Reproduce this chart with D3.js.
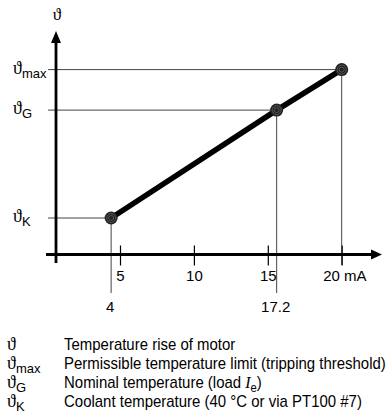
<!DOCTYPE html>
<html><head><meta charset="utf-8">
<script src="https://cdn.jsdelivr.net/npm/d3@7"></script>
<style>
html,body{margin:0;padding:0;background:#fff;}
svg{display:block;}
.sans{font-family:"Liberation Sans",Arial,sans-serif;}
.sym{font-family:"Liberation Serif","DejaVu Serif",serif;}
</style></head>
<body><svg id="c" width="391" height="416"></svg>
<script>
// ---- data ----
const xTicks = [5, 10, 15, 20];
const xTickLabels = ["5", "10", "15", "20 mA"];
const pointX = [4.4, 15.6, 20];          // current (mA)
const pointY = [16.4, 64.9, 83.1];       // relative temperature (schematic)
const pointSubs = ["K", "G", "max"];
const pointXLabels = ["4", "17.2", ""];
const legendSubs = ["", "max", "G", "K"];
const legendTexts = [
  "Temperature rise of motor",
  "Permissible temperature limit (tripping threshold)",
  "Nominal temperature (load ",
  "Coolant temperature (40 °C or via PT100 #7)"
];

const svg = d3.select("#c");
const x = d3.scaleLinear().domain([5, 20]).range([120, 341.7]);
const y = d3.scaleLinear().domain([0, 100]).range([254.5, 32]);
const x0 = 56;                // y-axis position
const theta = "\u03D1";

// guide lines (horizontal)
svg.selectAll("line.h").data(pointX).join("line")
  .attr("x1", 48).attr("x2", d => x(d))
  .attr("y1", (d, i) => y(pointY[i])).attr("y2", (d, i) => y(pointY[i]))
  .attr("stroke", "#444").attr("stroke-width", 1);
// guide lines (vertical)
svg.selectAll("line.v").data(pointX).join("line")
  .attr("x1", d => x(d)).attr("x2", d => x(d))
  .attr("y1", (d, i) => y(pointY[i])).attr("y2", (d, i) => pointXLabels[i] ? 293 : 265)
  .attr("stroke", "#444").attr("stroke-width", 1);

// axes
const ax = svg.append("g").attr("transform", `translate(0,${y(0)})`)
  .call(d3.axisBottom(x).tickValues(xTicks).tickSize(11)
    .tickFormat((d, i) => xTickLabels[i]));
ax.attr("font-family", null).attr("font-size", null);
ax.select(".domain").remove();
ax.selectAll(".tick line").attr("y1", -9).attr("y2", 11).attr("stroke", "#000").attr("stroke-width", 1.2);
ax.selectAll(".tick text").attr("y", 16).attr("dy", "0.71em")
  .attr("class", "sans").attr("font-size", 15).attr("fill", "#000");
ax.selectAll(".tick text").filter((d, i) => i === xTicks.length - 1)
  .attr("text-anchor", "start").attr("x", -19);

svg.append("line").attr("x1", 46).attr("x2", 374).attr("y1", y(0)).attr("y2", y(0))
  .attr("stroke", "#000").attr("stroke-width", 2.8);
svg.append("path").attr("d", `M382,${y(0)} L371,${y(0) - 5} L371,${y(0) + 5} Z`).attr("fill", "#000");
svg.append("line").attr("x1", x0).attr("x2", x0).attr("y1", 263).attr("y2", 42)
  .attr("stroke", "#000").attr("stroke-width", 2.8);
svg.append("path").attr("d", `M${x0},31 L${x0 - 5},43 L${x0 + 5},43 Z`).attr("fill", "#000");
svg.append("text").attr("x", x0 + 1).attr("y", 20).attr("text-anchor", "middle")
  .attr("class", "sym").attr("font-size", 17).text(theta);

// x extra labels
svg.selectAll("text.xl").data(pointX).join("text")
  .attr("x", d => x(d) - 1).attr("y", 312).attr("text-anchor", "middle")
  .attr("class", "sans").attr("font-size", 15)
  .text((d, i) => pointXLabels[i]);

// y labels
const yl = svg.selectAll("text.yl").data(pointY).join("text")
  .attr("x", 13).attr("y", d => y(d) + 4)
  .attr("class", "sym").attr("font-size", 18);
yl.append("tspan").text(theta);
yl.append("tspan").attr("class", "sans").attr("font-size", 13).attr("dy", 4)
  .text((d, i) => pointSubs[i]);

// line
svg.append("path").datum(pointX)
  .attr("d", d3.line().x(d => x(d)).y((d, i) => y(pointY[i]))(pointX))
  .attr("fill", "none").attr("stroke", "#000").attr("stroke-width", 5.5);

// points
const pts = svg.selectAll("g.pt").data(pointX).join("g")
  .attr("transform", (d, i) => `translate(${x(d)},${y(pointY[i])})`);
pts.append("circle").attr("r", 6.5).attr("fill", "#222");
pts.append("circle").attr("r", 4.5).attr("fill", "none").attr("stroke", "#555").attr("stroke-width", 1);
pts.append("circle").attr("r", 2.5).attr("fill", "none").attr("stroke", "#555").attr("stroke-width", 1);

// legend
const lg = svg.selectAll("g.lg").data(legendTexts).join("g")
  .attr("transform", (d, i) => `translate(0,${350 + i * 19})`);
const ls = lg.append("text").attr("x", 7).attr("y", 0)
  .attr("class", "sym").attr("font-size", 18);
ls.append("tspan").text(theta);
ls.append("tspan").attr("class", "sans").attr("font-size", 13).attr("dy", 4)
  .text((d, i) => legendSubs[i]);
const lt = lg.append("text").attr("x", 0).attr("y", 0)
  .attr("class", "sans").attr("font-size", 16).text(d => d);
lt.filter((d, i) => i === 2).each(function () {
  const t = d3.select(this);
  t.append("tspan").attr("class", "sym").attr("font-style", "italic").attr("font-size", 17).text("I");
  t.append("tspan").attr("font-size", 12).attr("dy", 4).text("e");
  t.append("tspan").attr("dy", -4).text(")");
});
const longest = d3.max(lt.nodes(), n => n.getComputedTextLength());
const k = 322 / longest;
lt.attr("transform", `translate(64,0) scale(${k},1)`);
</script></body></html>
